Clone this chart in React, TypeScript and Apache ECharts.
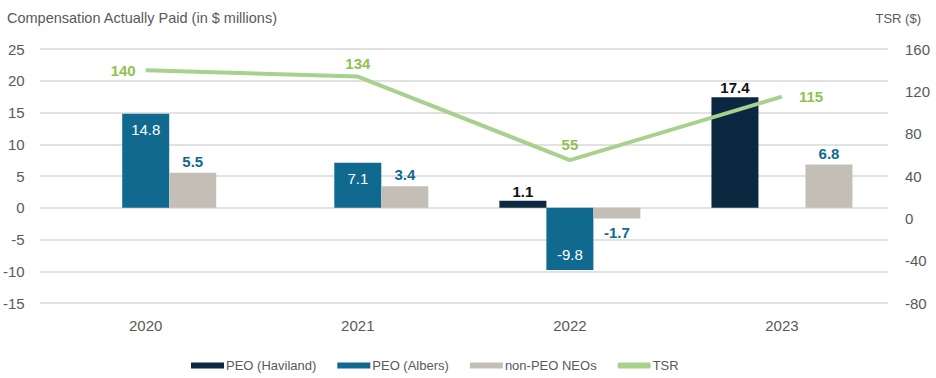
import React, { useEffect, useRef } from "react";
import * as echarts from "echarts";

const categories = ["2020", "2021", "2022", "2023"];
const peoHaviland: (number | null)[] = [null, null, 1.1, 17.4];
const peoAlbers: (number | null)[] = [14.8, 7.1, -9.8, null];
const nonPeoNeos: number[] = [5.5, 3.4, -1.7, 6.8];
const tsr: number[] = [140, 134, 55, 115];
const tsrLabelPos = ["left", "top", "top", "right"];

const FONT = "'Liberation Sans', Arial, sans-serif";
const GRAY = "#595959";
const NAVY = "#0c2840";
const BLUE = "#10698f";
const TAUPE = "#c4bfb6";
const GREEN = "#a9d18e";
const GREEN_TXT = "#8fc253";

export default function App() {
  const ref = useRef<HTMLDivElement>(null);
  useEffect(() => {
    if (!ref.current) return;
    const chart = echarts.init(ref.current, null, { renderer: "svg" });
    chart.setOption({
      animation: false,
      textStyle: { fontFamily: FONT },
      title: [
        {
          text: "Compensation Actually Paid (in $ millions)",
          left: 2,
          top: 5,
          textStyle: { fontFamily: FONT, fontSize: 14.5, fontWeight: "normal", color: GRAY },
        },
        {
          text: "TSR ($)",
          right: 10,
          top: 7,
          textStyle: { fontFamily: FONT, fontSize: 13, fontWeight: "normal", color: GRAY },
        },
      ],
      legend: {
        left: 186,
        top: 354,
        itemWidth: 33,
        itemHeight: 6,
        itemGap: 21,
        textStyle: { fontFamily: FONT, fontSize: 13, color: GRAY, padding: [0, 0, 0, -3] },
        data: [
          { name: "PEO (Haviland)", icon: "rect" },
          { name: "PEO (Albers)", icon: "rect" },
          { name: "non-PEO NEOs", icon: "rect" },
          { name: "TSR", icon: "roundRect" },
        ],
      },
      grid: { left: 35, right: 48, top: 49, bottom: 75 },
      xAxis: {
        type: "category",
        data: categories,
        axisLine: { show: false },
        axisTick: { show: false },
        axisLabel: { color: GRAY, fontSize: 15, fontFamily: FONT, margin: 15 },
      },
      yAxis: [
        {
          type: "value",
          min: -15,
          max: 25,
          interval: 5,
          axisLine: { show: false },
          axisTick: { show: false },
          axisLabel: { color: GRAY, fontSize: 15, fontFamily: FONT, margin: 15 },
          splitLine: { lineStyle: { color: "#d9d9d9", width: 1.5 } },
        },
        {
          type: "value",
          min: -80,
          max: 160,
          interval: 40,
          axisLine: { show: false },
          axisTick: { show: false },
          axisLabel: { color: GRAY, fontSize: 15, fontFamily: FONT, margin: 17 },
          splitLine: { show: false },
        },
      ],
      series: [
        {
          name: "PEO (Haviland)",
          type: "bar",
          barWidth: 47,
          barGap: "0%",
          itemStyle: { color: NAVY },
          data: peoHaviland,
          label: {
            show: true,
            position: "top",
            distance: 2,
            color: "#111",
            fontWeight: "bold",
            fontSize: 15,
            fontFamily: FONT,
          },
        },
        {
          name: "PEO (Albers)",
          type: "bar",
          barWidth: 47,
          barGap: "0%",
          itemStyle: { color: BLUE },
          data: peoAlbers.map((v) =>
            v === null
              ? null
              : {
                  value: v,
                  label: { position: v < 0 ? "insideBottom" : "insideTop", distance: 8 },
                }
          ),
          label: {
            show: true,
            color: "#fff",
            fontSize: 15,
            fontFamily: FONT,
          },
        },
        {
          name: "non-PEO NEOs",
          type: "bar",
          barWidth: 47,
          barGap: "0%",
          itemStyle: { color: TAUPE },
          data: nonPeoNeos.map((v) => ({
            value: v,
            label: { position: v < 0 ? "bottom" : "top", distance: v < 0 ? 6 : 4 },
          })),
          label: {
            show: true,
            color: BLUE,
            fontWeight: "bold",
            fontSize: 15,
            fontFamily: FONT,
          },
        },
        {
          name: "TSR",
          type: "line",
          yAxisIndex: 1,
          symbol: "circle",
          symbolSize: 0.1,
          showSymbol: true,
          itemStyle: { color: GREEN },
          lineStyle: { color: GREEN, width: 4 },
          data: tsr.map((v, i) => ({
            value: v,
            label: {
              position: tsrLabelPos[i],
              distance: i === 3 ? 17 : i === 0 ? 10 : i === 1 ? 5 : 8,
            },
          })),
          label: {
            show: true,
            color: GREEN_TXT,
            fontWeight: "bold",
            fontSize: 15,
            fontFamily: FONT,
          },
        },
      ],
    });
    return () => chart.dispose();
  }, []);
  return (
    <div
      ref={ref}
      style={{ position: "absolute", left: 0, top: 0, width: 936, height: 378 }}
    />
  );
}
